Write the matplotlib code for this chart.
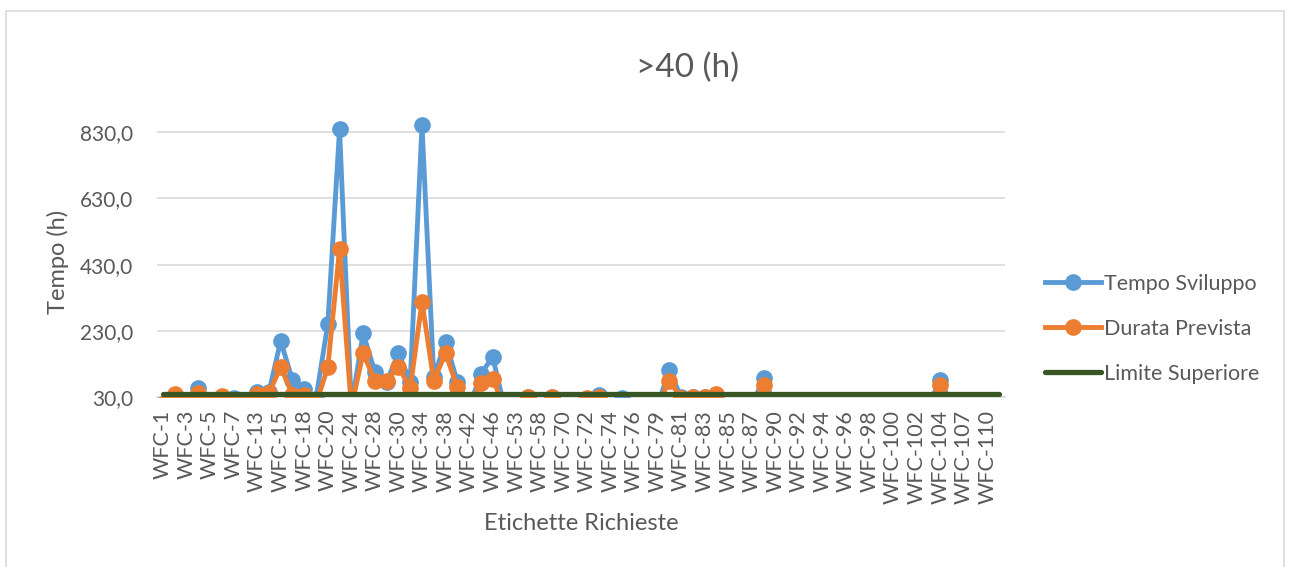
import numpy as np
import matplotlib.pyplot as plt
from matplotlib.patches import Rectangle

plt.rcParams['font.family'] = ['Lato', 'DejaVu Sans']

categorie = ["WFC-1", "WFC-2", "WFC-3", "WFC-4", "WFC-5", "WFC-6", "WFC-7", "WFC-10",
             "WFC-13", "WFC-14", "WFC-15", "WFC-17", "WFC-18", "WFC-19", "WFC-20", "WFC-22",
             "WFC-24", "WFC-26", "WFC-28", "WFC-29", "WFC-30", "WFC-32", "WFC-34", "WFC-36",
             "WFC-38", "WFC-40", "WFC-42", "WFC-44", "WFC-46", "WFC-50", "WFC-53", "WFC-55",
             "WFC-58", "WFC-65", "WFC-70", "WFC-71", "WFC-72", "WFC-73", "WFC-74", "WFC-75",
             "WFC-76", "WFC-78", "WFC-79", "WFC-80", "WFC-81", "WFC-82", "WFC-83", "WFC-84",
             "WFC-85", "WFC-86", "WFC-87", "WFC-88", "WFC-90", "WFC-91", "WFC-92", "WFC-93",
             "WFC-94", "WFC-95", "WFC-96", "WFC-97", "WFC-98", "WFC-99", "WFC-100", "WFC-101",
             "WFC-102", "WFC-103", "WFC-104", "WFC-105", "WFC-107", "WFC-108", "WFC-110", "WFC-111"]

tempo_sviluppo = [10, 32, 10, 57, 10, 30, 28, 10,
                  45, 45, 200, 82, 54, 26, 250, 838,
                  0, 223, 107, 77, 163, 77, 851, 90,
                  198, 77, 0, 100, 152, 0, 5, 30,
                  5, 30, 5, 5, 25, 38, 5, 28,
                  5, 5, 5, 112, 30, 31, 32, 36,
                  5, 5, 5, 87, 5, 5, 5, 5,
                  5, 5, 5, 5, 5, 5, 5, 5,
                  5, 5, 82, 5, 5, 5, 5, 5]

durata_prevista = [10, 40, 10, 44, 10, 34, 10, 10,
                   41, 42, 122, 38, 38, 10, 120, 477,
                   0, 163, 80, 80, 122, 57, 318, 80,
                   163, 60, 0, 74, 85, 0, 5, 30,
                   5, 30, 5, 5, 28, 30, 5, 5,
                   5, 5, 5, 80, 28, 30, 30, 39,
                   5, 5, 5, 67, 5, 5, 5, 5,
                   5, 5, 5, 5, 5, 5, 5, 5,
                   5, 5, 67, 5, 5, 5, 5, 5]

limite = [40] * len(categorie)

y_ticks = [30, 230, 430, 630, 830]

grigio = '#595959'
W, H = 1290, 567
fig = plt.figure(figsize=(W / 100, H / 100), dpi=100)
fig.patches.append(Rectangle((6 / W, -0.01), 1278 / W, 1 - 11 / H + 0.01, transform=fig.transFigure,
                             fill=False, edgecolor='#D9D9D9', linewidth=1.2))

ax = fig.add_axes([157 / W, (H - 397.3) / H, (1005 - 157) / W, (397.3 - 98.8) / H])
x = np.arange(len(categorie))

ax.plot(x, tempo_sviluppo, color='#5B9BD5', lw=3.5, marker='o', ms=11, label='Tempo Sviluppo', zorder=3)
ax.plot(x, durata_prevista, color='#ED7D31', lw=3.5, marker='o', ms=11, label='Durata Prevista', zorder=4)
ax.plot(x, limite, color='#375623', lw=3.8, solid_capstyle='round', label='Limite Superiore', zorder=5)

ax.set_xlim(-0.5, len(categorie) - 0.5)
ax.set_ylim(30, 930)
ax.set_yticks(y_ticks)
ax.set_yticklabels([f"{v:.1f}".replace('.', ',') for v in y_ticks])
ax.set_xticks(x[::2])
ax.set_xticklabels(categorie[::2], rotation=90)
ax.tick_params(axis='both', length=0, colors=grigio)
ax.tick_params(axis='y', pad=17, labelsize=15)
ax.tick_params(axis='x', pad=9, labelsize=15.5)
ax.grid(axis='y', color='#D9D9D9', lw=1.2)
ax.set_axisbelow(True)
for s in ['top', 'right', 'left']:
    ax.spines[s].set_visible(False)
ax.spines['bottom'].set_color('#D9D9D9')
ax.spines['bottom'].set_linewidth(1.2)

fig.text(688 / W, 1 - 68 / H, '>40 (h)', fontsize=24, color=grigio, ha='center', va='center')
fig.text(58 / W, 1 - 262 / H, 'Tempo (h)', fontsize=17, color=grigio, rotation=90, ha='center', va='center')
fig.text(581 / W, 1 - 524 / H, 'Etichette Richieste', fontsize=17, color=grigio, ha='center', va='center')

leg = fig.legend(loc='upper left', bbox_to_anchor=(1045 / W, 1 - 274 / H), frameon=False,
                 fontsize=15.5, handlelength=2.6, handletextpad=0.15, labelspacing=1.15,
                 borderpad=0, borderaxespad=0)
for t in leg.get_texts():
    t.set_color(grigio)

fig.savefig('out.png', dpi=100)
